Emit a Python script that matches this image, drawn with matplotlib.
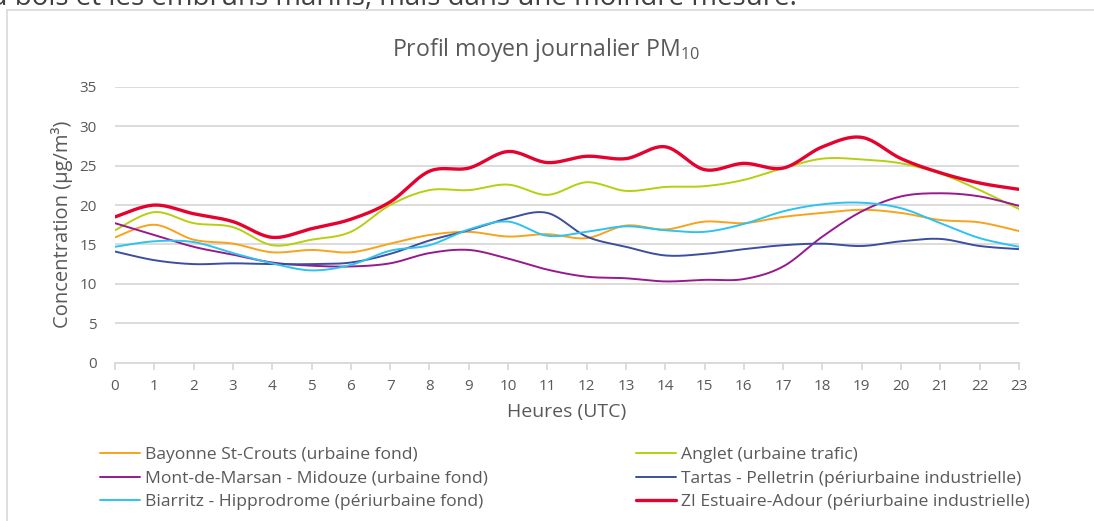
import matplotlib
matplotlib.use("Agg")
import matplotlib.pyplot as plt
import numpy as np
from matplotlib.lines import Line2D

plt.rcParams['font.family'] = ['Open Sans', 'DejaVu Sans']
plt.rcParams['mathtext.fontset'] = 'custom'
plt.rcParams['mathtext.rm'] = 'Open Sans'

hours = list(range(24))

bayonne = [15.9, 17.5, 15.6, 15.1, 14.0, 14.3, 14.0, 15.1, 16.2, 16.6, 16.0, 16.3,
           15.8, 17.4, 16.9, 17.9, 17.7, 18.5, 19.0, 19.4, 19.0, 18.1, 17.8, 16.7]
anglet = [16.8, 19.1, 17.7, 17.2, 14.9, 15.6, 16.6, 20.0, 21.9, 21.9, 22.6, 21.3,
          22.9, 21.8, 22.3, 22.4, 23.2, 24.7, 25.9, 25.8, 25.3, 24.0, 21.9, 19.5]
mont = [17.7, 16.2, 14.7, 13.7, 12.7, 12.3, 12.2, 12.6, 13.9, 14.3, 13.2, 11.8,
        10.9, 10.7, 10.3, 10.5, 10.6, 12.2, 16.0, 19.2, 21.1, 21.5, 21.1, 19.9]
tartas = [14.1, 13.0, 12.5, 12.6, 12.5, 12.5, 12.7, 13.8, 15.5, 16.8, 18.3, 19.0,
          16.0, 14.7, 13.6, 13.8, 14.4, 14.9, 15.1, 14.8, 15.4, 15.7, 14.8, 14.4]
biarritz = [14.7, 15.4, 15.3, 13.9, 12.6, 11.7, 12.4, 14.2, 14.9, 16.9, 17.9, 16.1,
            16.6, 17.3, 16.8, 16.6, 17.6, 19.2, 20.1, 20.3, 19.6, 17.7, 15.8, 14.7]
estuaire = [18.5, 20.0, 18.9, 17.9, 15.9, 17.0, 18.2, 20.4, 24.3, 24.7, 26.8, 25.4,
            26.2, 25.9, 27.4, 24.5, 25.3, 24.7, 27.4, 28.6, 25.9, 24.1, 22.8, 22.0]

labels = ["Bayonne St-Crouts (urbaine fond)", "Anglet (urbaine trafic)",
          "Mont-de-Marsan - Midouze (urbaine fond)", "Tartas - Pelletrin (périurbaine industrielle)",
          "Biarritz - Hipprodrome (périurbaine fond)", "ZI Estuaire-Adour (périurbaine industrielle)"]
series = [bayonne, anglet, mont, tartas, biarritz, estuaire]
colors = ['#f9a21c', '#b6cf0e', '#98198e', '#3c4ea0', '#2ec3ef', '#e4032e']
widths = [1.4, 1.4, 1.4, 1.4, 1.4, 2.4]

TXT = '#595959'
GRID = '#d9d9d9'


def smooth(x, y, n=20):
    # bezier smoothing like the excel "smoothed line"
    x = np.asarray(x, float)
    y = np.asarray(y, float)
    xs, ys = [], []
    for i in range(len(x) - 1):
        i0 = max(i - 1, 0)
        i3 = min(i + 2, len(x) - 1)
        p0 = np.array([x[i], y[i]])
        p3 = np.array([x[i + 1], y[i + 1]])
        c1 = p0 + (p3 - np.array([x[i0], y[i0]])) / 6
        c2 = p3 - (np.array([x[i3], y[i3]]) - p0) / 6
        t = np.linspace(0, 1, n, endpoint=(i == len(x) - 2))[:, None]
        pts = (1 - t) ** 3 * p0 + 3 * (1 - t) ** 2 * t * c1 + 3 * (1 - t) * t ** 2 * c2 + t ** 3 * p3
        xs.append(pts[:, 0])
        ys.append(pts[:, 1])
    return np.concatenate(xs), np.concatenate(ys)


fig = plt.figure(figsize=(10.94, 5.21), dpi=100)
ax = fig.add_axes([115 / 1094, 158.5 / 521, 904 / 1094, 275.5 / 521])

handles = []
for s, c, w, lab in zip(series, colors, widths, labels):
    sx, sy = smooth(hours, s)
    h, = ax.plot(sx, sy, color=c, lw=w, label=lab, solid_capstyle='round')
    handles.append(h)

ax.set_xlim(0, 23)
ax.set_ylim(0, 35)
ax.set_xticks(hours)
ax.set_yticks(range(0, 36, 5))
ax.grid(axis='y', color=GRID, lw=1.3)
ax.set_axisbelow(True)
for side in ['top', 'right', 'left']:
    ax.spines[side].set_visible(False)
ax.spines['bottom'].set_color(GRID)
ax.spines['bottom'].set_linewidth(1.3)
ax.tick_params(axis='x', colors=GRID, labelcolor=TXT, length=5, width=1.3, pad=7, labelsize=11)
ax.tick_params(axis='y', length=0, labelcolor=TXT, pad=13, labelsize=11)

fig.text(546 / 1094, 1 - 50 / 521, "Profil moyen journalier PM$_{10}$", ha='center', va='center',
         fontsize=16.7, color=TXT)
fig.text(62 / 1094, 1 - 224 / 521, "Concentration (µg/m³)", rotation=90, ha='center', va='center',
         fontsize=14.5, color=TXT)
fig.text(567 / 1094, 1 - 412 / 521, "Heures (UTC)", ha='center', va='center', fontsize=14, color=TXT)

# legend, two columns
col1 = [handles[0], handles[2], handles[4]]
col2 = [handles[1], handles[3], handles[5]]
for hs, x0 in [(col1, 100), (col2, 636)]:
    fig.legend(hs, [h.get_label() for h in hs], loc='upper left',
               bbox_to_anchor=(x0 / 1094, 1 - 447 / 521), frameon=False, fontsize=12.6,
               handlelength=2.29, handletextpad=0.29, labelspacing=0.42, labelcolor=TXT,
               borderpad=0, borderaxespad=0)

# chart frame and cut text from the page above
fig.add_artist(Line2D([7 / 1094, 7 / 1094], [0, 1 - 10 / 521], color=GRID, lw=1.2))
fig.add_artist(Line2D([7 / 1094, 1], [1 - 10 / 521, 1 - 10 / 521], color=GRID, lw=1.2))
fig.text(-25 / 1094, 1 - 5 / 521, "au bois et les embruns marins, mais dans une moindre mesure.",
         ha='left', va='baseline', fontsize=20, color='#404040')

fig.savefig("out.png", dpi=100)
